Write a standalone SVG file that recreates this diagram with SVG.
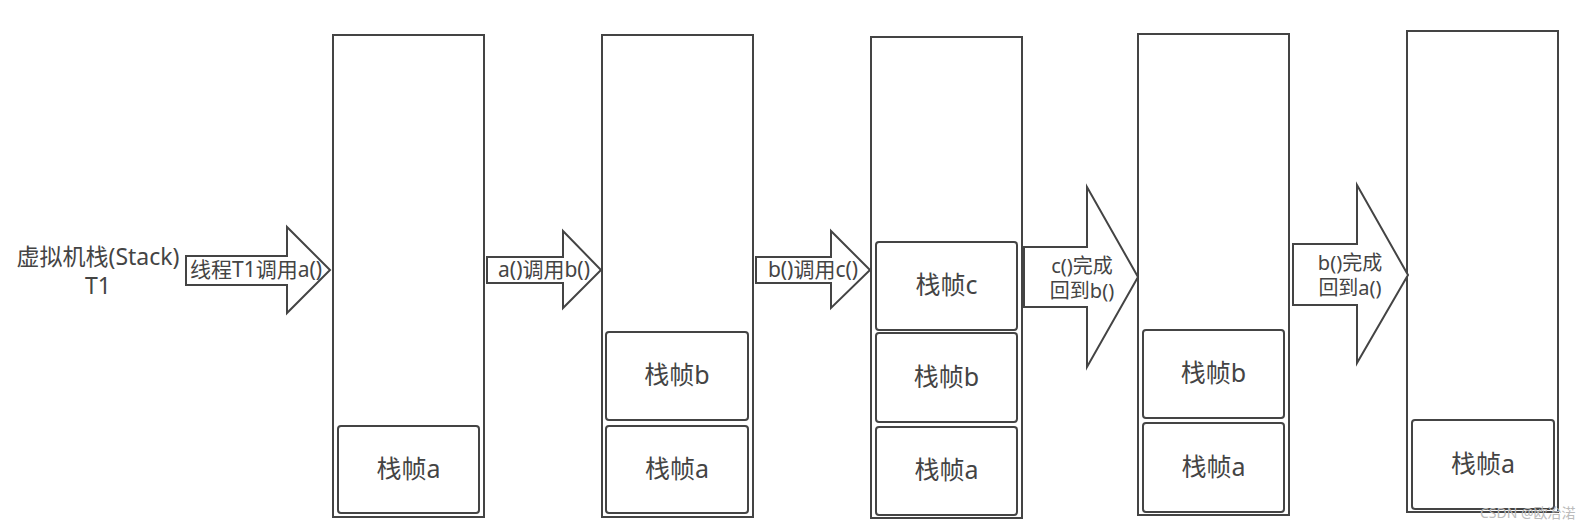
<svg xmlns="http://www.w3.org/2000/svg" width="1595" height="530" viewBox="0 0 1595 530">
<style>
.stack{fill:#fff;stroke:#444;stroke-width:2}
.frame{fill:#fff;stroke:#444;stroke-width:2}
.arrow{fill:#fff;stroke:#444;stroke-width:2;stroke-linejoin:miter}
text{font-family:"Noto Sans","Noto Sans CJK SC",sans-serif;fill:#444;text-anchor:middle}
.ft{font-size:25px}
.al{font-size:21px}
.al2{font-size:20px}
.lbl{font-size:23px}
.wm{font-size:14px;fill:#bbb;text-anchor:start}
</style>
<rect width="1595" height="530" fill="#fff"/>
<g id="label-stack">
<text class="lbl" x="98" y="265">虚拟机栈(Stack)</text>
<text class="lbl" x="98" y="294">T1</text>
</g>
<g id="stack1">
<rect class="stack" x="333" y="35" width="151" height="482"/>
<g id="s1-frame-a"><rect class="frame" x="338" y="426" width="141" height="87" rx="3"/><text class="ft" x="408.5" y="478">栈帧a</text></g>
</g>
<g id="stack2">
<rect class="stack" x="602" y="35" width="151" height="482"/>
<g id="s2-frame-b"><rect class="frame" x="606" y="332" width="142" height="88" rx="3"/><text class="ft" x="677" y="384">栈帧b</text></g>
<g id="s2-frame-a"><rect class="frame" x="606" y="426" width="142" height="87" rx="3"/><text class="ft" x="677" y="478">栈帧a</text></g>
</g>
<g id="stack3">
<rect class="stack" x="871" y="37" width="151" height="481"/>
<g id="s3-frame-c"><rect class="frame" x="876" y="242" width="141" height="88" rx="3"/><text class="ft" x="946.5" y="294">栈帧c</text></g>
<g id="s3-frame-b"><rect class="frame" x="876" y="333" width="141" height="89" rx="3"/><text class="ft" x="946.5" y="386">栈帧b</text></g>
<g id="s3-frame-a"><rect class="frame" x="876" y="427" width="141" height="88" rx="3"/><text class="ft" x="946.5" y="479">栈帧a</text></g>
</g>
<g id="stack4">
<rect class="stack" x="1138" y="34" width="151" height="481"/>
<g id="s4-frame-b"><rect class="frame" x="1143" y="330" width="141" height="88" rx="3"/><text class="ft" x="1213.5" y="382">栈帧b</text></g>
<g id="s4-frame-a"><rect class="frame" x="1143" y="423" width="141" height="89" rx="3"/><text class="ft" x="1213.5" y="476">栈帧a</text></g>
</g>
<g id="stack5">
<rect class="stack" x="1407" y="31" width="151" height="481"/>
<g id="s5-frame-a"><rect class="frame" x="1412" y="420" width="142" height="89" rx="3"/><text class="ft" x="1483" y="473">栈帧a</text></g>
</g>
<g id="connectors">
<g id="arrow1"><polygon class="arrow" points="186,256 287,256 287,227 330,270 287,313 287,285 186,285"/><text class="al" x="256" y="277">线程T1调用a()</text></g>
<g id="arrow2"><polygon class="arrow" points="487,257 563,257 563,231 601,270 563,308 563,283 487,283"/><text class="al" x="544" y="277">a()调用b()</text></g>
<g id="arrow3"><polygon class="arrow" points="756,257 831,257 831,231 870,270 831,308 831,283 756,283"/><text class="al" x="813" y="277">b()调用c()</text></g>
<g id="arrow4"><polygon class="arrow" points="1024,247 1087,247 1087,187 1138,277 1087,367 1087,307 1024,307"/><text class="al2" x="1082" y="273">c()完成</text><text class="al2" x="1082" y="298">回到b()</text></g>
<g id="arrow5"><polygon class="arrow" points="1293,244 1357,244 1357,185 1408,275 1357,363 1357,305 1293,305"/><text class="al2" x="1350" y="270">b()完成</text><text class="al2" x="1350" y="295">回到a()</text></g>
</g>
<text class="wm" x="1480" y="518">CSDN @欧冶渃</text>
</svg>
